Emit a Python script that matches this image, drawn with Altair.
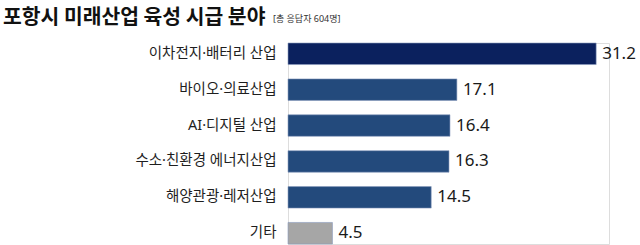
import altair as alt
import pandas as pd

categories = ["이차전지·배터리 산업", "바이오·의료산업", "AI·디지털 산업",
              "수소·친환경 에너지산업", "해양관광·레저산업", "기타"]
values = [31.2, 17.1, 16.4, 16.3, 14.5, 4.5]
groups = ["top", "main", "main", "main", "main", "other"]

title_text = "포항시 미래산업 육성 시급 분야"
subtitle_text = "[총 응답자 604명]"

FONT = "Noto Sans CJK KR"
MIX = "Noto Sans, Noto Sans CJK KR"

df = pd.DataFrame({"category": categories, "value": values, "group": groups})

y_enc = alt.Y("category:N", sort=categories, title=None,
              scale=alt.Scale(paddingInner=0.4, paddingOuter=0),
              axis=alt.Axis(ticks=False, domain=False, labelFont=MIX, labelFontSize=14.5,
                            labelColor="#1e1e1e", labelPadding=12, labelLimit=300))
x_enc = alt.X("value:Q", title=None, axis=None, scale=alt.Scale(domain=[0, 32.5], nice=False))

bars = alt.Chart(df).mark_bar(stroke="#8a9bbd", strokeWidth=0.6).encode(
    x=x_enc, y=y_enc,
    color=alt.Color("group:N", legend=None,
                    scale=alt.Scale(domain=["top", "main", "other"],
                                    range=["#0b215e", "#234a7c", "#a6a6a6"])),
)

labels = alt.Chart(df).mark_text(align="left", baseline="middle", dx=6, font=MIX,
                                 fontSize=17, color="#1a1a1a").encode(
    x=x_enc, y=y_enc, text=alt.Text("value:Q", format=".1f"))

title_df = pd.DataFrame({"t": [title_text]})
sub_df = pd.DataFrame({"t": [subtitle_text]})
title = alt.Chart(title_df).mark_text(align="left", baseline="alphabetic", font=FONT,
                                      fontSize=20.4, fontWeight="bold", color="#111111").encode(
    x=alt.value(-285), y=alt.value(-19), text="t:N")
sub = alt.Chart(sub_df).mark_text(align="left", baseline="alphabetic", font=MIX,
                                  fontSize=9, color="#333333").encode(
    x=alt.value(-15), y=alt.value(-21), text="t:N")

chart = alt.layer(bars, labels, title, sub).properties(
    width=321, height=201,
    autosize=alt.AutoSizeParams(type="none"),
    padding={"left": 288, "top": 43, "right": 31, "bottom": 1},
).configure_view(stroke=None).configure(background="white")

chart.save("out.html", embed_options={"renderer": "svg", "actions": False})
